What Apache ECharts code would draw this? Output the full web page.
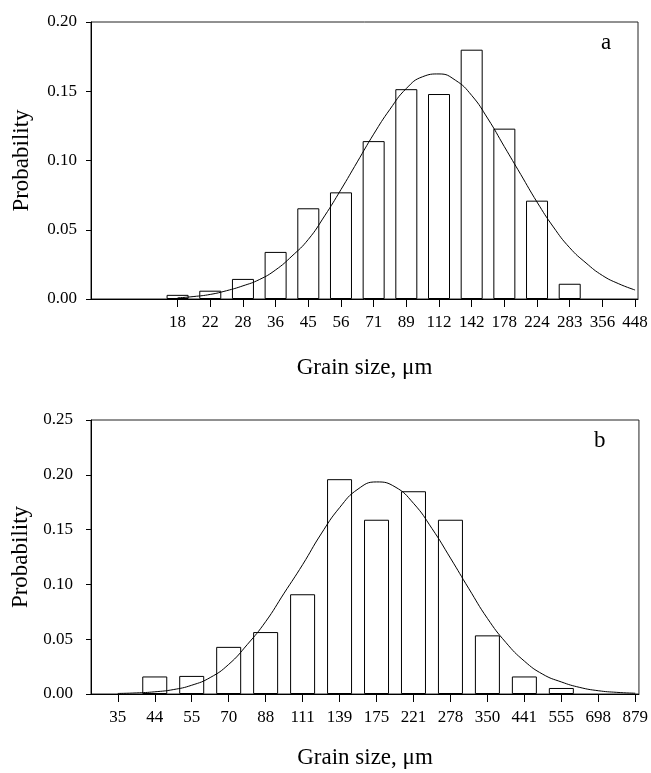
<!DOCTYPE html>
<html>
<head>
<meta charset="utf-8">
<script src="https://cdn.jsdelivr.net/npm/echarts@6/dist/echarts.min.js"></script>
<style>
  html, body { margin: 0; padding: 0; background: #fff; }
  #chart { width: 651px; height: 773px; }
</style>
</head>
<body>
<div id="chart"></div>
<script>
// ---- Panel a ----
const labelsA = ['18','22','28','36','45','56','71','89','112','142','178','224','283','356','448'];
const barsA = [0.003, 0.006, 0.0145, 0.034, 0.0655, 0.077, 0.114, 0.1515, 0.148, 0.180, 0.123, 0.071, 0.011, 0, 0];
const curvePosA = [0, 0.5, 1, 1.5, 2, 2.5, 3, 3.5, 4, 4.5, 5, 5.5, 6, 6.5, 7, 7.5, 8, 8.5, 9, 9.5, 10, 10.5, 11, 11.5, 12, 12.5, 13, 13.5, 14];
const curveValA = [0.0008, 0.0018, 0.0033, 0.006, 0.0095, 0.014, 0.021, 0.031, 0.043, 0.060, 0.079, 0.099, 0.119, 0.137, 0.152, 0.1605, 0.1625, 0.158, 0.147, 0.130, 0.110, 0.090, 0.070, 0.052, 0.037, 0.026, 0.017, 0.011, 0.0065];
const yTicksA = [0, 0.05, 0.10, 0.15, 0.20];

// ---- Panel b ----
const labelsB = ['35','44','55','70','88','111','139','175','221','278','350','441','555','698','879'];
const barsB = [0, 0.016, 0.0165, 0.043, 0.0565, 0.091, 0.196, 0.159, 0.185, 0.159, 0.0535, 0.016, 0.0055, 0, 0];
const curvePosB = [0, 0.5, 1, 1.5, 2, 2.5, 3, 3.5, 4, 4.5, 5, 5.5, 6, 6.5, 7, 7.5, 8, 8.5, 9, 9.5, 10, 10.5, 11, 11.5, 12, 12.5, 13, 13.5, 14];
const curveValB = [0.0005, 0.001, 0.002, 0.004, 0.008, 0.015, 0.027, 0.045, 0.066, 0.092, 0.118, 0.146, 0.170, 0.187, 0.1935, 0.189, 0.174, 0.151, 0.124, 0.096, 0.069, 0.047, 0.030, 0.018, 0.011, 0.006, 0.003, 0.0015, 0.0007];
const yTicksB = [0, 0.05, 0.10, 0.15, 0.20, 0.25];

const xTitle = 'Grain size, μm';
const yTitle = 'Probability';
const FONT = 'Liberation Serif';

function idxList(arr) { return arr.map((_, i) => i); }
function barData(vals) { return vals.map((v, i) => v > 0 ? [i, v] : [i, null]); }
function lineData(pos, vals) { return pos.map((p, i) => [p, vals[i]]); }

function xAxisCfg(gridIndex, labels, min, max, nameGap) {
  return {
    type: 'value', gridIndex, min, max,
    name: xTitle, nameLocation: 'middle', nameGap,
    nameTextStyle: { fontFamily: FONT, fontSize: 23, color: '#000' },
    axisLine: { show: true, onZero: false, lineStyle: { color: '#000', width: 1 } },
    axisTick: { show: true, inside: false, length: 8, customValues: idxList(labels), lineStyle: { color: '#000' } },
    axisLabel: { show: true, margin: 15, customValues: idxList(labels),
      formatter: v => labels[Math.round(v)] || '',
      fontFamily: FONT, fontSize: 17, color: '#000' },
    splitLine: { show: false }
  };
}
function yAxisCfg(gridIndex, ticks, margin) {
  return {
    type: 'value', gridIndex, min: ticks[0], max: ticks[ticks.length - 1], interval: 0.05,
    name: yTitle, nameLocation: 'middle', nameGap: 58, nameRotate: 90,
    nameTextStyle: { fontFamily: FONT, fontSize: 23, color: '#000' },
    axisLine: { show: true, onZero: false, lineStyle: { color: '#000', width: 1 } },
    axisTick: { show: true, inside: false, length: 5, lineStyle: { color: '#000' } },
    axisLabel: { margin, formatter: v => v.toFixed(2), fontFamily: FONT, fontSize: 17, color: '#000' },
    splitLine: { show: false }
  };
}

const chart = echarts.init(document.getElementById('chart'), null, { renderer: 'canvas' });
chart.setOption({
  animation: false,
  backgroundColor: '#fff',
  grid: [
    { left: 91, top: 22, width: 547, height: 277, show: true, borderColor: '#222', borderWidth: 1, backgroundColor: 'transparent' },
    { left: 91, top: 420, width: 552, height: 274, show: true, borderColor: '#222', borderWidth: 1, backgroundColor: 'transparent' }
  ],
  xAxis: [
    xAxisCfg(0, labelsA, -2.65, 14.09, 57),
    xAxisCfg(1, labelsB, -0.725, 14.10, 52)
  ],
  yAxis: [
    yAxisCfg(0, yTicksA, 14),
    yAxisCfg(1, yTicksB, 18)
  ],
  graphic: [
    { type: 'text', left: 601, top: 31, style: { text: 'a', font: '23px "Liberation Serif"', fill: '#000' } },
    { type: 'text', left: 594, top: 429, style: { text: 'b', font: '23px "Liberation Serif"', fill: '#000' } }
  ],
  series: [
    { type: 'bar', xAxisIndex: 0, yAxisIndex: 0, barWidth: 22, data: barData(barsA),
      itemStyle: { color: '#fff', borderColor: '#000', borderWidth: 1 } },
    { type: 'line', xAxisIndex: 0, yAxisIndex: 0, smooth: true, symbol: 'none', data: lineData(curvePosA, curveValA),
      lineStyle: { color: '#000', width: 1 }, z: 5 },
    { type: 'bar', xAxisIndex: 1, yAxisIndex: 1, barWidth: 25, data: barData(barsB),
      itemStyle: { color: '#fff', borderColor: '#000', borderWidth: 1 } },
    { type: 'line', xAxisIndex: 1, yAxisIndex: 1, smooth: true, symbol: 'none', data: lineData(curvePosB, curveValB),
      lineStyle: { color: '#000', width: 1 }, z: 5 }
  ]
});
</script>
</body>
</html>
